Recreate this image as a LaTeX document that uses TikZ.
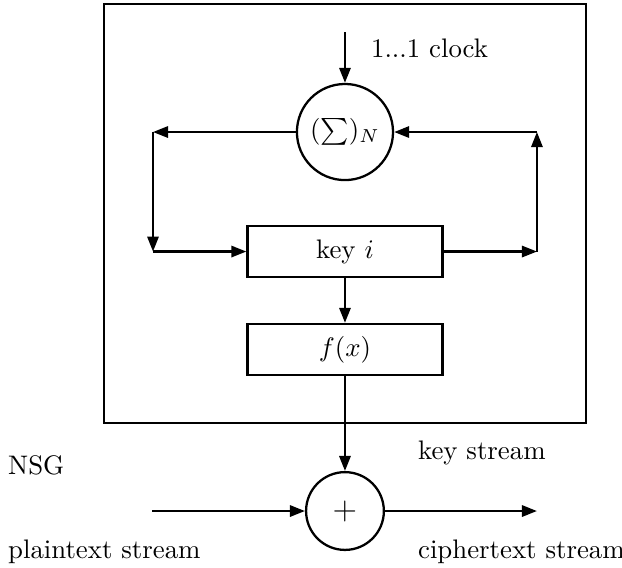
\documentclass[tikz,border=0pt]{standalone}
\usepackage{amsmath,amssymb}
\usepackage{tikz}
\usetikzlibrary{positioning,arrows.meta,calc}

\begin{document}
\begin{tikzpicture}[
    >={Triangle[length=5.6pt,width=4.2pt]},
    font=\normalsize,
    line width=0.85pt,
    box/.style    = {draw, minimum width=2.556cm, minimum height=0.669cm,
                     inner sep=0pt},
    rnd/.style    = {draw, circle, inner sep=0pt},
    arr/.style    = {->},
    lbl/.style    = {anchor=west, inner sep=0pt},
]
\useasboundingbox (0,0) rectangle (8.155,7.447);

%% ── NSG frame ─────────────────────────────────────────────────────────────
\node[draw, minimum width=6.32cm, minimum height=5.493cm, inner sep=0pt]
  (nsg) at (4.523, 4.648) {};

%% ── Counter ───────────────────────────────────────────────────────────────
\node[rnd, minimum size=1.26cm] (sum) at (4.523, 5.716) {$(\sum)_N$};
\coordinate (clk) at (4.523, 7.027);
\node[lbl] (clktxt) at (4.851, 6.817) {1...1 clock};
\draw[arr] (clk) -- (sum.north);

%% ── Key register ──────────────────────────────────────────────────────────
\node[box] (key) at (4.523, 4.149) {key $i$};
\node[box] (fx)  at (4.523, 2.865) {$f(x)$};

\coordinate (lt) at (2.006, 5.716);
\coordinate (lb) at (2.006, 4.149);
\coordinate (rt) at (7.040, 5.716);
\coordinate (rb) at (7.040, 4.149);

\draw[arr] (sum.west) -- (lt);
\draw[arr] (lt) -- (lb);
\draw[arr] (lb) -- (key.west);
\draw[arr] (key.east) -- (rb);
\draw[arr] (rb) -- (rt);
\draw[arr] (rt) -- (sum.east);

\draw[arr] (key.south) -- (fx.north);

%% ── Combiner ──────────────────────────────────────────────────────────────
\node[rnd, minimum size=1.02cm] (xor) at (4.523, 0.747) {\large$+$};
\draw[arr] (fx.south) -- (xor.north);

\coordinate (pin)  at (1.993, 0.747);
\coordinate (cout) at (7.040, 0.747);
\draw[arr] (pin) -- (xor.west);
\draw[arr] (xor.east) -- (cout);

%% ── Labels ────────────────────────────────────────────────────────────────
\node[lbl] (nsglbl) at (0.092, 1.350) {NSG};
\node[lbl] (kslbl)  at (5.467, 1.508) {key stream};
\node[lbl] (ptlbl)  at (0.092, 0.210) {plaintext stream};
\node[lbl] (ctlbl)  at (5.467, 0.210) {ciphertext stream};

\end{tikzpicture}
\end{document}
